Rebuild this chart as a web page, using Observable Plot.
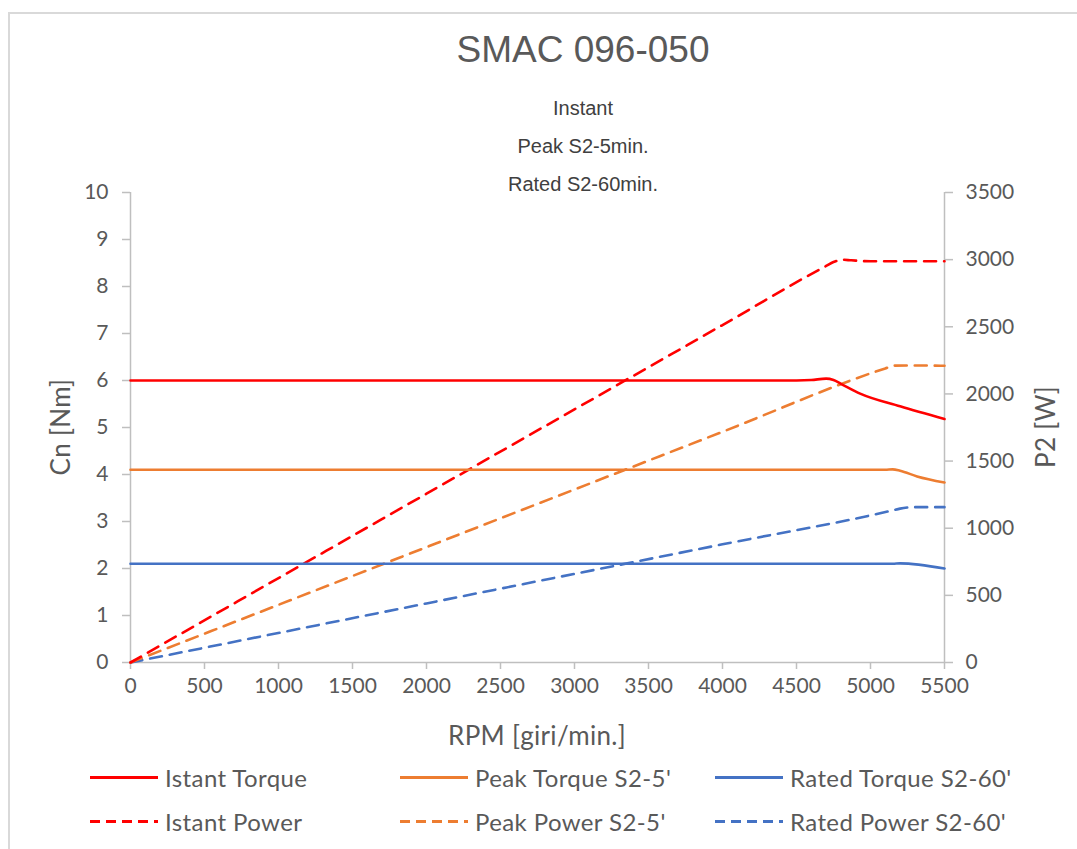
<!DOCTYPE html>
<html><head><meta charset="utf-8">
<script src="https://cdn.jsdelivr.net/npm/d3@7"></script>
<script src="https://cdn.jsdelivr.net/npm/@observablehq/plot@0.6"></script>
<style>
body{margin:0;background:#fff;}
#wrap{position:relative;width:1077px;height:849px;overflow:hidden;font-family:Lato,"Open Sans",sans-serif;color:#595959;}
#frame{position:absolute;left:8px;top:12px;width:1200px;height:1000px;border-left:2px solid #d9d9d9;border-top:2px solid #d9d9d9;}
.t{position:absolute;white-space:nowrap;}
#title{left:583px;top:50px;transform:translate(-50%,-50%);font-family:"Liberation Sans",Arial,sans-serif;font-size:37px;color:#595959;}
.sub{left:583px;transform:translate(-50%,-50%);font-family:"Liberation Sans",Arial,sans-serif;font-size:20px;color:#404040;}
.axt{font-size:26px;color:#595959;letter-spacing:0.3px;}
.leg{position:absolute;display:flex;align-items:center;font-size:24px;letter-spacing:0.4px;color:#595959;transform:translateY(-50%);}
.leg svg{margin-right:7px;}
#chart{position:absolute;left:0;top:0;}
</style></head>
<body><div id="wrap"><div id="frame"></div><div id="chart"></div></div>
<script>
// ---- data ----
const titleText = "SMAC 096-050";
const subtitleLines = ["Instant", "Peak S2-5min.", "Rated S2-60min."];
const xTitle = "RPM [giri/min.]";
const yLeftTitle = "Cn [Nm]";
const yRightTitle = "P2 [W]";

const rpmTicks = [0,500,1000,1500,2000,2500,3000,3500,4000,4500,5000,5500];
const torqueTicks = [0,1,2,3,4,5,6,7,8,9,10];
const powerTicks = [0,500,1000,1500,2000,2500,3000,3500];

const istantTorqueRpm = [0, 4500, 4600, 4700, 4750, 4800, 4930, 5200, 5500];
const istantTorqueVal = [6.0, 6.0, 6.01, 6.04, 6.01, 5.93, 5.72, 5.45, 5.18];
const istantPowerRpm = [0, 2000, 4000, 4700, 4750, 4810, 4870, 5000, 5500];
const istantPowerVal = [0, 1257, 2513, 2953, 2982, 2999, 2995, 2988, 2988];

const peakTorqueRpm = [0, 5100, 5150, 5200, 5315, 5500];
const peakTorqueVal = [4.1, 4.1, 4.11, 4.08, 3.96, 3.83];
const peakPowerRpm = [0, 2000, 4000, 5100, 5160, 5250, 5500];
const peakPowerVal = [0, 859, 1718, 2190, 2211, 2212, 2210];

const ratedTorqueRpm = [0, 5150, 5200, 5500];
const ratedTorqueVal = [2.1, 2.1, 2.11, 2.0];
const ratedPowerRpm = [0, 2000, 4000, 5150, 5200, 5300, 5500];
const ratedPowerVal = [0, 440, 880, 1133, 1146, 1157, 1157];

const seriesNames = ["Istant Torque","Peak Torque S2-5'","Rated Torque S2-60'","Istant Power","Peak Power S2-5'","Rated Power S2-60'"];
const seriesColors = ["#ff0000","#ed7d31","#4472c4","#ff0000","#ed7d31","#4472c4"];

// ---- build ----
const powerPerTorqueUnit = 350; // right axis 0..3500 maps to left 0..10
const zip = (xs, ys) => xs.map((x,i)=>({x, y: ys[i]}));
const torqueSeries = [zip(istantTorqueRpm, istantTorqueVal), zip(peakTorqueRpm, peakTorqueVal), zip(ratedTorqueRpm, ratedTorqueVal)];
const powerSeries = [zip(istantPowerRpm, istantPowerVal), zip(peakPowerRpm, peakPowerVal), zip(ratedPowerRpm, ratedPowerVal)];

const axisColor = "#bfbfbf";
const tickFont = {fontSize: 21};
const marks = [
  Plot.ruleX([0, 5500], {stroke: axisColor, strokeWidth: 1.5}),
  Plot.ruleY([0], {stroke: axisColor, strokeWidth: 1.5}),
  Plot.axisX(rpmTicks, {anchor:"bottom", tickSize:7, tickPadding:9, stroke:axisColor, strokeWidth:1.5, fill:"#595959", label:null, tickFormat: d=>String(d), ...tickFont}),
  Plot.axisY(torqueTicks, {anchor:"left", tickSize:8, tickPadding:14, stroke:axisColor, strokeWidth:1.5, fill:"#595959", label:null, tickFormat: d=>String(d), ...tickFont}),
  Plot.axisY(powerTicks.map(p=>p/powerPerTorqueUnit), {anchor:"right", tickSize:8, tickPadding:13, stroke:axisColor, strokeWidth:1.5, fill:"#595959", label:null, tickFormat: d=>String(Math.round(d*powerPerTorqueUnit)), ...tickFont}),
];
[2,1,0].forEach(i => {
  marks.push(Plot.line(powerSeries[i], {x:"x", y: d=>d.y/powerPerTorqueUnit, stroke: seriesColors[i+3], strokeWidth:2.6, strokeDasharray:"12,8", curve:"monotone-x"}));
});
[2,1,0].forEach(i => {
  marks.push(Plot.line(torqueSeries[i], {x:"x", y:"y", stroke: seriesColors[i], strokeWidth:2.6, curve:"monotone-x"}));
});

const chart = Plot.plot({
  width:1077, height:849,
  marginLeft:130, marginRight:133, marginTop:192, marginBottom:187,
  x:{domain:[0,5500]},
  y:{domain:[0,10]},
  style:{fontFamily:'Lato,"Open Sans",sans-serif', background:"transparent", color:"#595959", overflow:"visible"},
  marks
});
document.getElementById("chart").appendChild(chart);

const wrap = document.getElementById("wrap");
function addText(cls, txt, css){ const d=document.createElement("div"); d.className="t "+cls; d.textContent=txt; Object.assign(d.style, css); wrap.appendChild(d); return d; }
const tt = addText("", titleText, {}); tt.id="title";
subtitleLines.forEach((s,i)=> addText("sub", s, {top:(108+38*i)+"px"}));
addText("axt", xTitle, {left:"537px", top:"735px", transform:"translate(-50%,-50%)"});
addText("axt", yLeftTitle, {left:"60px", top:"427px", transform:"translate(-50%,-50%) rotate(-90deg)"});
addText("axt", yRightTitle, {left:"1045px", top:"427px", transform:"translate(-50%,-50%) rotate(-90deg)"});

const legCols = [90, 400, 715];
const legRows = [777, 821];
seriesNames.forEach((name,i)=>{
  const row = Math.floor(i/3), col = i%3;
  const d = document.createElement("div"); d.className="leg";
  d.style.left = legCols[col]+"px"; d.style.top = legRows[row]+"px";
  const dash = row===1 ? 'stroke-dasharray="10,6"' : '';
  d.innerHTML = `<svg width="68" height="8"><line x1="0" y1="4" x2="68" y2="4" stroke="${seriesColors[i]}" stroke-width="3" ${dash}/></svg><span>${name}</span>`;
  wrap.appendChild(d);
});
</script></body></html>
